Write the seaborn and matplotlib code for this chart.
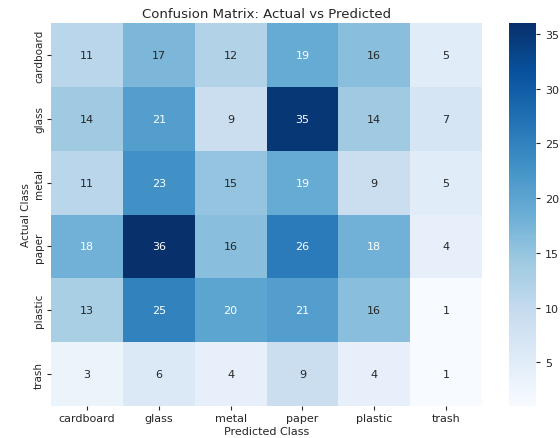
import numpy as np
import pandas as pd
import seaborn as sns
import matplotlib
matplotlib.use("Agg")
import matplotlib.pyplot as plt

classes = ["cardboard", "glass", "metal", "paper", "plastic", "trash"]
row_cardboard = [11, 17, 12, 19, 16, 5]
row_glass = [14, 21, 9, 35, 14, 7]
row_metal = [11, 23, 15, 19, 9, 5]
row_paper = [18, 36, 16, 26, 18, 4]
row_plastic = [13, 25, 20, 21, 16, 1]
row_trash = [3, 6, 4, 9, 4, 1]

cm = pd.DataFrame([row_cardboard, row_glass, row_metal, row_paper, row_plastic, row_trash],
                  index=classes, columns=classes)

plt.rcParams["text.color"] = "#262626"
plt.rcParams["axes.labelcolor"] = "#262626"
plt.rcParams["xtick.color"] = "#262626"
plt.rcParams["ytick.color"] = "#262626"

fig = plt.figure(figsize=(5.6, 4.39), dpi=100)
ax = fig.add_axes([51/560, 1 - 407/439, 431/560, 383/439])
cax = fig.add_axes([509/560, 1 - 407/439, 27/560, 383/439])
sns.heatmap(cm, annot=True, fmt="d", cmap="Blues", ax=ax, cbar_ax=cax,
            annot_kws={"size": 8})
ax.set_title("Confusion Matrix: Actual vs Predicted", fontsize=9.5, pad=4)
ax.set_xlabel("Predicted Class", fontsize=8, labelpad=2)
ax.set_ylabel("Actual Class", fontsize=7.5, labelpad=2)
ax.tick_params(axis="x", labelsize=8, rotation=0, length=3, pad=2)
ax.tick_params(axis="y", labelsize=7.5, rotation=90, length=3, pad=2)
for lbl in ax.get_yticklabels():
    lbl.set_va("center")
cax.tick_params(labelsize=8, length=3)
fig.savefig("out.png", dpi=100)
